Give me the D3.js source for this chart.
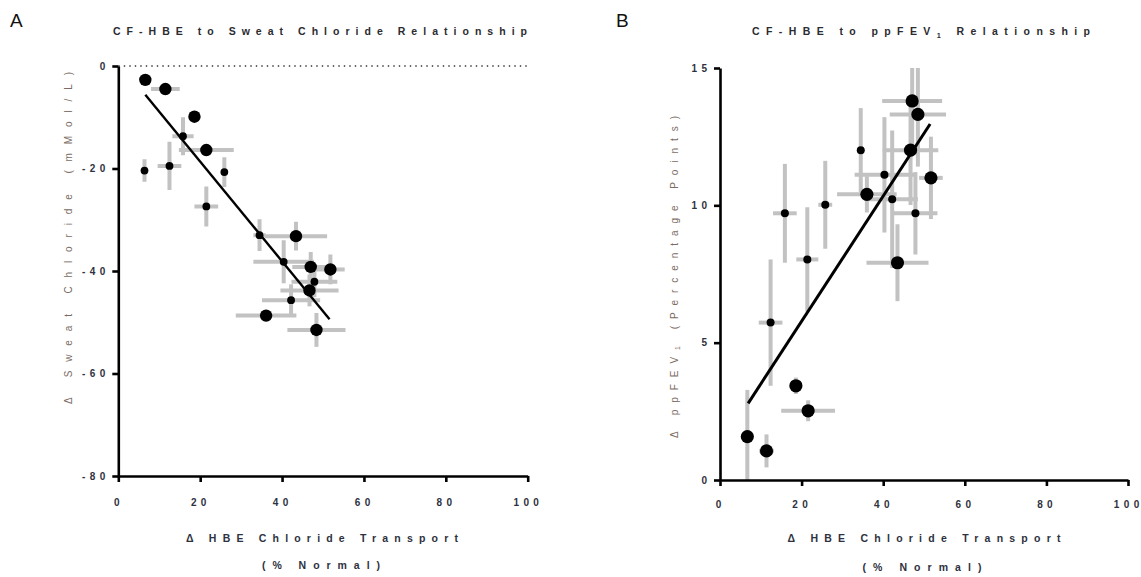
<!DOCTYPE html>
<html>
<head>
<meta charset="utf-8">
<script src="https://cdn.jsdelivr.net/npm/d3@7"></script>
<style>
  html, body { margin: 0; padding: 0; background: #ffffff; }
  svg { display: block; font-family: "Liberation Sans", Arial, sans-serif; }
</style>
</head>
<body>
<svg id="chart" width="1141" height="577"></svg>
<script>
// Panel A: change in HBE chloride transport vs change in sweat chloride
const sweatX     = [6.6, 11.5, 18.6, 15.8, 21.5, 6.4, 12.5, 25.9, 21.5, 34.5, 43.4, 40.4, 47.0, 51.8, 47.9, 46.7, 42.2, 36.1, 48.4];
const sweatY     = [-2.7, -4.5, -9.9, -13.7, -16.4, -20.4, -19.5, -20.7, -27.4, -33.0, -33.2, -38.2, -39.2, -39.7, -42.1, -43.8, -45.7, -48.7, -51.5];
const sweatXErr  = [0, 3.5, 0, 2.6, 6.7, 0, 2.9, 0, 2.9, 1.5, 7.6, 7.4, 4.5, 3.5, 5.6, 7.1, 7.1, 7.4, 7.1];
const sweatYErr  = [0, 0, 0, 3.7, 0, 2.2, 4.7, 2.9, 3.9, 3.1, 2.8, 4.2, 2.9, 2.9, 3.0, 3.1, 3.1, 0.5, 3.3];
const sweatLarge = [1, 1, 1, 0, 1, 0, 0, 0, 0, 0, 1, 0, 1, 1, 0, 1, 0, 1, 1];
const sweatFitX  = [6.6, 51.6];
const sweatFitY  = [-5.6, -49.4];

// Panel B: change in HBE chloride transport vs change in ppFEV1
const fevX     = [47.1, 48.5, 34.5, 46.7, 40.3, 51.7, 36.0, 42.2, 47.9, 15.9, 25.8, 21.4, 43.5, 12.4, 18.6, 21.6, 6.7, 11.4];
const fevY     = [13.8, 13.31, 12.01, 12.01, 11.11, 11.0, 10.4, 10.22, 9.71, 9.71, 10.02, 8.03, 7.91, 5.73, 3.43, 2.52, 1.58, 1.06];
const fevXErr  = [7.35, 6.9, 0, 6.8, 7.3, 2.9, 7.3, 6.3, 5.4, 2.9, 1.7, 2.7, 7.6, 2.9, 0.6, 6.6, 0, 1.8];
const fevYErr  = [1.9, 1.9, 1.53, 2.0, 2.1, 1.5, 0.66, 2.5, 1.5, 1.8, 1.6, 1.9, 1.4, 2.3, 0.3, 0.38, 1.7, 0.6];
const fevLarge = [1, 1, 0, 1, 0, 1, 1, 0, 0, 0, 0, 0, 1, 0, 1, 1, 1, 1];
const fevFitX  = [6.9, 51.5];
const fevFitY  = [2.79, 12.96];

// Axis ticks
const xTicks      = [0, 20, 40, 60, 80, 100];
const sweatYTicks = [0, -20, -40, -60, -80];
const fevYTicks   = [0, 5, 10, 15];

const svg = d3.select("#chart");
const TICK_GAP = 4.4;           // extra space between tick label characters
const TICK_FILL = "#2e3140";
const TITLE_FILL = "#2b2b30";
const AXTITLE_FILL = "#7a6c62";
const ERR_FILL = "#c2c2c2";

function zip(xs, ys, xe, ye, big) {
  return xs.map((x, i) => ({ x, y: ys[i], xe: xe[i], ye: ye[i], big: big[i] }));
}

// spread tick label glyphs apart without adding trailing space
function spreadLabels(sel) {
  sel.each(function () {
    const n = this.textContent.length;
    if (n > 1) {
      const w = this.getComputedTextLength();
      d3.select(this).attr("textLength", w + (n - 1) * TICK_GAP).attr("lengthAdjust", "spacing");
    }
  });
}

function drawPanel(cfg) {
  const { id, xRange, yRange, yDomain, yTicks, data, fitX, fitY,
          rBig, rSmall, lineW, dottedZero, xPad } = cfg;
  const x = d3.scaleLinear().domain([0, 100]).range(xRange);
  const y = d3.scaleLinear().domain(yDomain).range(yRange);
  const g = svg.append("g");

  // clip so error bars stop at the frame
  svg.append("clipPath").attr("id", "clip-" + id)
    .append("rect")
    .attr("x", xRange[0]).attr("y", yRange[1])
    .attr("width", xRange[1] - xRange[0]).attr("height", yRange[0] - yRange[1]);

  if (dottedZero) {
    g.append("line")
      .attr("x1", x(0)).attr("x2", x(100))
      .attr("y1", y(0)).attr("y2", y(0))
      .attr("stroke", "#333").attr("stroke-width", 1.6)
      .attr("stroke-dasharray", "1.4,4.1");
  }

  const plot = g.append("g").attr("clip-path", `url(#clip-${id})`);

  // error bars
  plot.selectAll("line.xe").data(data.filter(d => d.xe > 0)).join("line")
    .attr("x1", d => x(d.x - d.xe)).attr("x2", d => x(d.x + d.xe))
    .attr("y1", d => y(d.y)).attr("y2", d => y(d.y))
    .attr("stroke", ERR_FILL).attr("stroke-width", 4);
  plot.selectAll("line.ye").data(data.filter(d => d.ye > 0)).join("line")
    .attr("x1", d => x(d.x)).attr("x2", d => x(d.x))
    .attr("y1", d => y(d.y - d.ye)).attr("y2", d => y(d.y + d.ye))
    .attr("stroke", ERR_FILL).attr("stroke-width", 4);

  // regression line
  g.append("line")
    .attr("x1", x(fitX[0])).attr("y1", y(fitY[0]))
    .attr("x2", x(fitX[1])).attr("y2", y(fitY[1]))
    .attr("stroke", "#000").attr("stroke-width", lineW);

  // points
  g.selectAll("circle").data(data).join("circle")
    .attr("cx", d => x(d.x)).attr("cy", d => y(d.y))
    .attr("r", d => d.big ? rBig : rSmall)
    .attr("fill", "#000");

  // axes
  const fmt = d => String(d);
  const xAxis = g.append("g")
    .attr("transform", `translate(0,${yRange[0]})`)
    .call(d3.axisBottom(x).tickValues(xTicks).tickFormat(fmt)
      .tickSize(6).tickSizeOuter(0).tickPadding(xPad));
  const yAxis = g.append("g")
    .attr("transform", `translate(${xRange[0]},0)`)
    .call(d3.axisLeft(y).tickValues(yTicks).tickFormat(fmt)
      .tickSize(6).tickSizeOuter(0).tickPadding(7));

  [xAxis, yAxis].forEach(a => {
    a.select(".domain").attr("stroke", "#000").attr("stroke-width", 2.6);
    a.selectAll(".tick line").attr("stroke", "#000").attr("stroke-width", 2.6);
    a.selectAll(".tick text")
      .attr("fill", TICK_FILL)
      .style("font-size", "10px")
      .style("font-weight", "bold")
      .style("font-family", '"Liberation Sans", Arial, sans-serif')
      .call(spreadLabels);
  });
  xAxis.selectAll(".tick text").attr("dx", "-2px");
  return { x, y };
}

drawPanel({
  id: "a", xRange: [118.3, 527.7], yRange: [476, 66], yDomain: [-80, 0],
  yTicks: sweatYTicks,
  data: zip(sweatX, sweatY, sweatXErr, sweatYErr, sweatLarge),
  fitX: sweatFitX, fitY: sweatFitY, rBig: 6.2, rSmall: 3.9, lineW: 2.4,
  dottedZero: true, xPad: 17
});

drawPanel({
  id: "b", xRange: [720, 1128], yRange: [480, 68], yDomain: [0, 15],
  yTicks: fevYTicks,
  data: zip(fevX, fevY, fevXErr, fevYErr, fevLarge),
  fitX: fevFitX, fitY: fevFitY, rBig: 6.6, rSmall: 4.0, lineW: 3,
  dottedZero: false, xPad: 15
});

// Text helpers
function spacedText(x, y, len, size, fill, parts, rotate) {
  const t = svg.append("text")
    .attr("x", x).attr("y", y)
    .attr("text-anchor", "middle")
    .attr("dominant-baseline", "central")
    .attr("textLength", len)
    .attr("lengthAdjust", "spacing")
    .attr("fill", fill)
    .style("font-size", size + "px");
  if (rotate) t.attr("transform", `rotate(-90,${x},${y})`);
  parts.forEach(p => {
    const s = t.append("tspan").text(p.t);
    if (p.sub) s.attr("baseline-shift", "sub").style("font-size", (size * 0.7) + "px");
  });
  return t;
}

// Panel letters
svg.append("text").attr("x", 10).attr("y", 27).text("A")
  .style("font-size", "19px").attr("fill", "#111");
svg.append("text").attr("x", 616).attr("y", 27).text("B")
  .style("font-size", "19px").attr("fill", "#111");

// Titles
spacedText(320, 31, 414, 10.5, TITLE_FILL, [{ t: "CF-HBE to Sweat Chloride Relationship" }])
  .style("font-weight", "bold");
spacedText(921, 31, 338, 10.5, TITLE_FILL, [{ t: "CF-HBE to ppFEV" }, { t: "1", sub: true }, { t: " Relationship" }])
  .style("font-weight", "bold");

// X axis titles
spacedText(322, 538, 272, 10.5, TICK_FILL, [{ t: "Δ HBE Chloride Transport" }]).style("font-weight", "bold");
spacedText(321, 565, 118, 10.5, TICK_FILL, [{ t: "(% Normal)" }]).style("font-weight", "bold");
spacedText(924, 538, 273, 10.5, TICK_FILL, [{ t: "Δ HBE Chloride Transport" }]).style("font-weight", "bold");
spacedText(922, 567, 119, 10.5, TICK_FILL, [{ t: "(% Normal)" }]).style("font-weight", "bold");

// Y axis titles
spacedText(68, 238, 332, 10, AXTITLE_FILL, [{ t: "Δ Sweat Chloride (mMol/L)" }], true);
spacedText(674, 277, 322, 10, AXTITLE_FILL, [{ t: "Δ ppFEV" }, { t: "1", sub: true }, { t: " (Percentage Points)" }], true);
</script>
</body>
</html>
